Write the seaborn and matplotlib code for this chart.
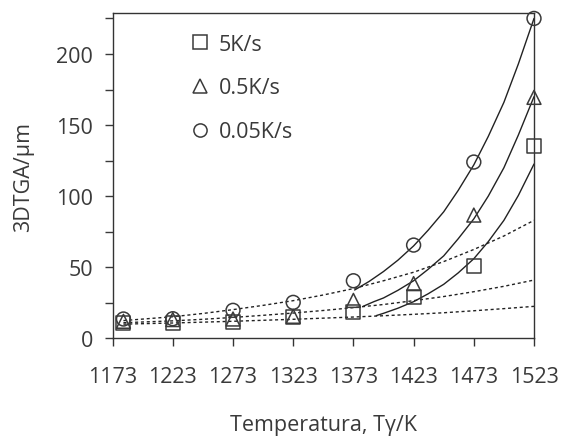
import matplotlib
matplotlib.use("Agg")
import matplotlib.pyplot as plt
from matplotlib.lines import Line2D
from matplotlib.ticker import MultipleLocator
import seaborn as sns

# ---- data ----
temps = [1182, 1223, 1273, 1323, 1373, 1423, 1473, 1523]
y_5k = [10.8, 10.9, 11.5, 14.8, 18.3, 28.8, 51, 135]
y_05k = [12.0, 13.2, 13.6, 15.5, 26.7, 38.5, 86.7, 169.5]
y_005k = [13.6, 13.8, 19.7, 25.3, 40.5, 65.6, 124, 225]

# fitted curves (solid, high-temperature part)
fit_005k_x = [1374, 1386, 1398, 1410, 1423, 1435, 1448, 1460, 1473, 1485, 1498, 1510, 1523]
fit_005k_y = [34, 40, 47, 55, 65, 76, 89, 104, 122, 142, 166, 193, 225]
fit_05k_x = [1381, 1390, 1398, 1410, 1423, 1435, 1448, 1460, 1473, 1485, 1498, 1510, 1523]
fit_05k_y = [22.5, 25.8, 28.4, 33.8, 40.5, 48.5, 58, 70, 84, 100, 120, 143, 170]
fit_5k_x = [1392, 1398, 1410, 1423, 1435, 1448, 1460, 1473, 1485, 1498, 1510, 1523]
fit_5k_y = [16, 17.6, 21.2, 25.8, 31.3, 38, 46, 56, 68, 83, 100.5, 122.6]

# dotted curves (low-temperature fits extrapolated)
dot_x = [1182, 1223, 1248, 1273, 1298, 1323, 1348, 1373, 1398, 1423, 1448, 1473, 1498, 1523]
dot_upper = [12.5, 15.2, 17.5, 20.2, 23.2, 26.5, 30.5, 35, 40.5, 46.5, 54, 62.5, 72, 83]
dot_middle = [11, 12.3, 13.4, 14.7, 16.2, 17.8, 19.6, 21.6, 23.8, 26.5, 29.4, 32.8, 36.6, 41]
dot_lower = [10, 10.8, 11.4, 12, 12.7, 13.4, 14.2, 15, 15.9, 16.9, 18, 19.4, 20.9, 22.5]

x_ticks = [1173, 1223, 1273, 1323, 1373, 1423, 1473, 1523]
labels = ["5K/s", "0.5K/s", "0.05K/s"]
markers = ["s", "^", "o"]

# ---- style ----
sns.set_theme(style="ticks")
plt.rcParams["font.family"] = ["Open Sans", "DejaVu Sans"]
ink = "#3a3a3a"
plt.rcParams.update({
    "axes.edgecolor": "#333333", "xtick.color": "#333333", "ytick.color": ink,
    "text.color": ink, "axes.labelcolor": ink, "font.weight": "normal",
})
FS = 15.5

fig = plt.figure(figsize=(5.63, 4.39), dpi=100)
ax = fig.add_axes([0.2, 0.227, 0.7485, 0.741])

for yy in (dot_upper, dot_middle, dot_lower):
    sns.lineplot(x=dot_x, y=yy, ax=ax, color="#222222", lw=1.0,
                 linestyle=(0, (2.2, 2.0)), sort=False, estimator=None)

for xx, yy in ((fit_005k_x, fit_005k_y), (fit_05k_x, fit_05k_y), (fit_5k_x, fit_5k_y)):
    sns.lineplot(x=xx, y=yy, ax=ax, color="#222222", lw=1.0, sort=False, estimator=None)

for yy, m in zip((y_5k, y_05k, y_005k), markers):
    sns.scatterplot(x=temps, y=yy, ax=ax, marker=m, s=100, facecolor="none",
                    edgecolor="#3a3a3a", linewidth=1.1, clip_on=False, zorder=5)

ax.set_xlim(1173, 1523)
ax.set_ylim(0, 228.8)
ax.set_xticks(x_ticks)
ax.set_xticklabels([str(t) for t in x_ticks])
ax.yaxis.set_major_locator(MultipleLocator(50))
ax.yaxis.set_minor_locator(MultipleLocator(25))
ax.tick_params(axis="both", which="both", direction="out", length=6, width=1, labelsize=FS,
               labelcolor=ink)
ax.tick_params(axis="x", pad=14)
ax.tick_params(axis="y", pad=8)
for sp in ("top", "right", "left", "bottom"):
    ax.spines[sp].set_visible(True)
    ax.spines[sp].set_linewidth(1.0)

ax.set_xlabel("Temperatura, Tγ/K", fontsize=FS, labelpad=19)
ax.set_ylabel("3DTGA/μm", fontsize=FS, labelpad=16)

handles = [Line2D([], [], marker=m, linestyle="none", markersize=9.5,
                  markerfacecolor="none", markeredgecolor="#3a3a3a", markeredgewidth=1.1)
           for m in markers]
ax.legend(handles, labels, loc="upper left", bbox_to_anchor=(0.181, 0.936),
          frameon=False, fontsize=FS, handlelength=1.0, handletextpad=0.4,
          labelspacing=1.05, borderpad=0, borderaxespad=0)

fig.savefig("out.png", dpi=100)
